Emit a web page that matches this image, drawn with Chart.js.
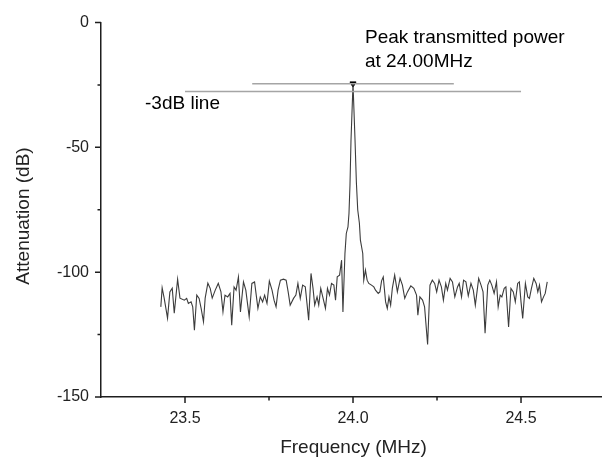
<!DOCTYPE html>
<html>
<head>
<meta charset="utf-8">
<title>Attenuation vs frequency</title>
<script src="https://cdn.jsdelivr.net/npm/chart.js@4.4.1/dist/chart.umd.min.js"></script>
<style>
  html, body { margin: 0; padding: 0; background: #fff; overflow: hidden; }
  #wrap { width: 602px; height: 458px; }
</style>
</head>
<body>
<div id="wrap"><canvas id="chart" width="602" height="458"></canvas></div>
<script>
var freqMHz = [
  23.428, 23.432, 23.438, 23.448, 23.455, 23.462, 23.468, 23.478, 23.485, 23.498,
  23.505, 23.510, 23.518, 23.523, 23.528, 23.535, 23.542, 23.548, 23.555, 23.560,
  23.568, 23.575, 23.581, 23.590, 23.599, 23.607, 23.613, 23.619, 23.627, 23.634,
  23.639, 23.646, 23.652, 23.659, 23.665, 23.674, 23.681, 23.691, 23.699, 23.707,
  23.717, 23.724, 23.731, 23.737, 23.744, 23.751, 23.759, 23.765, 23.771, 23.777,
  23.784, 23.793, 23.801, 23.807, 23.813, 23.823, 23.830, 23.836, 23.843, 23.850,
  23.858, 23.863, 23.868, 23.875, 23.881, 23.886, 23.893, 23.898, 23.904, 23.910,
  23.918, 23.924, 23.930, 23.936, 23.943, 23.948, 23.953, 23.960, 23.966, 23.970,
  23.976, 23.980, 23.985, 23.988, 23.991, 23.994, 24.000, 24.006, 24.010, 24.014,
  24.019, 24.022, 24.029, 24.032, 24.037, 24.042, 24.047, 24.055, 24.062, 24.067,
  24.075, 24.080, 24.085, 24.090, 24.097, 24.102, 24.107, 24.112, 24.117, 24.124,
  24.132, 24.140, 24.147, 24.154, 24.162, 24.172, 24.181, 24.189, 24.193, 24.199,
  24.207, 24.213, 24.222, 24.229, 24.236, 24.243, 24.249, 24.256, 24.263, 24.269,
  24.276, 24.281, 24.289, 24.296, 24.303, 24.311, 24.316, 24.323, 24.329, 24.336,
  24.343, 24.351, 24.358, 24.364, 24.374, 24.381, 24.387, 24.393, 24.401, 24.407,
  24.413, 24.420, 24.427, 24.432, 24.438, 24.443, 24.450, 24.455, 24.463, 24.470,
  24.477, 24.483, 24.490, 24.495, 24.500, 24.505, 24.513, 24.520, 24.525, 24.531,
  24.538, 24.545, 24.550, 24.555, 24.561, 24.567, 24.572, 24.578
];
var attenuationDb = [
  -113.9, -106.3, -110.4, -118.4, -107.9, -106.4, -116.4, -102.8, -110.4, -111.2,
  -110.5, -112.5, -111.9, -113.9, -123.2, -109.2, -110.5, -114.5, -119.9, -110.4,
  -104.4, -106.5, -110.4, -107.2, -104.5, -107.9, -115.9, -109.2, -109.9, -108.5,
  -121.2, -105.9, -107.2, -101.9, -115.9, -103.9, -107.2, -117.9, -104.5, -103.9,
  -114.5, -109.9, -111.9, -109.2, -112.5, -103.6, -107.2, -111.2, -113.9, -107.2,
  -103.2, -102.8, -103.2, -107.9, -113.2, -110.5, -109.2, -104.5, -110.5, -105.2,
  -105.9, -112.5, -119.2, -100.5, -106.5, -113.2, -109.9, -113.2, -106.5, -109.9,
  -114.5, -106.5, -109.2, -104.5, -105.2, -111.2, -101.9, -101.2, -95.2, -115.9,
  -92.5, -84.5, -81.9, -76.5, -65.0, -47.2, -24.5, -47.2, -64.0, -75.0,
  -80.4, -87.2, -92.5, -103.2, -99.2, -103.2, -104.5, -105.2, -105.9, -107.2,
  -108.5, -107.9, -103.5, -101.9, -111.9, -114.5, -109.9, -113.2, -106.5, -101.2,
  -107.9, -102.5, -105.2, -110.5, -107.9, -105.5, -106.5, -109.2, -117.2, -109.9,
  -111.2, -113.9, -129.0, -105.2, -103.2, -104.5, -107.9, -103.2, -105.9, -111.2,
  -104.5, -107.2, -102.5, -103.9, -109.9, -105.9, -104.5, -109.9, -103.2, -103.9,
  -109.5, -104.5, -107.2, -113.2, -102.5, -105.2, -107.9, -124.5, -105.2, -103.2,
  -105.2, -108.5, -103.9, -113.9, -109.2, -109.9, -106.5, -105.9, -121.9, -106.5,
  -107.9, -111.9, -104.5, -103.9, -111.9, -118.5, -104.5, -109.9, -110.5, -106.5,
  -102.5, -104.5, -107.9, -105.2, -111.9, -109.9, -108.5, -103.9
];

// marker lines
var peakLineFreq = [23.70, 24.30];
var peakLineDb = [-24.5, -24.5];
var halfLineFreq = [23.50, 24.50];
var halfLineDb = [-27.6, -27.6];
var peakFreq = [24.00];
var peakDb = [-24.5];

// axes
var xMajorTicks = [23.5, 24.0, 24.5];
var xMinorTicks = [23.75, 24.25];
var yMajorTicks = [0, -50, -100, -150];
var yMinorTicks = [-25, -75, -125];

function pairs(xs, ys) {
  return xs.map(function(x, i) { return { x: x, y: ys[i] }; });
}

var FONT = "'Liberation Sans', Arial, sans-serif";
var AXIS = "#1e1e1e";

var extras = {
  id: "extras",
  afterDraw: function(chart) {
    var ctx = chart.ctx;
    var xs = chart.scales.x, ys = chart.scales.y;
    var area = chart.chartArea;
    ctx.save();
    ctx.strokeStyle = AXIS;
    ctx.lineWidth = 1.5;
    ctx.beginPath();
    xMajorTicks.forEach(function(v) {
      var px = xs.getPixelForValue(v);
      ctx.moveTo(px, area.bottom); ctx.lineTo(px, area.bottom + 6);
    });
    xMinorTicks.forEach(function(v) {
      var px = xs.getPixelForValue(v);
      ctx.moveTo(px, area.bottom); ctx.lineTo(px, area.bottom + 3.5);
    });
    yMajorTicks.forEach(function(v) {
      var py = ys.getPixelForValue(v);
      ctx.moveTo(area.left, py); ctx.lineTo(area.left - 6, py);
    });
    yMinorTicks.forEach(function(v) {
      var py = ys.getPixelForValue(v);
      ctx.moveTo(area.left, py); ctx.lineTo(area.left - 3.5, py);
    });
    ctx.stroke();

    ctx.fillStyle = "#000";
    ctx.font = "19px " + FONT;
    ctx.textBaseline = "alphabetic";
    ctx.textAlign = "left";
    ctx.fillText("Peak transmitted power", 365, 43);
    ctx.fillText("at 24.00MHz", 365, 67);
    ctx.fillText("-3dB line", 145, 109);

    ctx.fillStyle = "#222";
    ctx.textAlign = "center";
    ctx.fillText("Frequency (MHz)", 353.5, 453);
    ctx.translate(28.5, 216);
    ctx.rotate(-Math.PI / 2);
    ctx.fillText("Attenuation (dB)", 0, 0);
    ctx.restore();
  }
};

new Chart(document.getElementById("chart"), {
  type: "scatter",
  data: {
    datasets: [
      {
        data: pairs(halfLineFreq, halfLineDb),
        showLine: true, borderColor: "#a5a5a5", borderWidth: 1.5,
        pointRadius: 0
      },
      {
        data: pairs(peakLineFreq, peakLineDb),
        showLine: true, borderColor: "#a5a5a5", borderWidth: 1.5,
        pointRadius: 0
      },
      {
        data: pairs(freqMHz, attenuationDb),
        showLine: true, borderColor: "#3c3c3c", borderWidth: 1.1,
        pointRadius: 0, tension: 0
      },
      {
        data: pairs(peakFreq, peakDb),
        pointStyle: "triangle", rotation: 180, pointRadius: 3.5,
        backgroundColor: "#000", borderColor: "#000", borderWidth: 1
      }
    ]
  },
  options: {
    responsive: false,
    animation: false,
    devicePixelRatio: 1,
    layout: { autoPadding: false, padding: { top: 22.5, right: 0, left: 0, bottom: 0 } },
    plugins: { legend: { display: false }, tooltip: { enabled: false } },
    scales: {
      x: {
        type: "linear",
        min: 23.25,
        max: 24.741,
        afterFit: function(s) {
          s.height = 61;
          s.paddingLeft = 0; s.paddingRight = 0;
        },
        grid: { display: false, drawTicks: false },
        border: { display: true, color: AXIS, width: 1.5 },
        ticks: {
          stepSize: 0.5,
          includeBounds: false,
          padding: 12,
          color: "#222",
          font: { family: FONT, size: 16 },
          callback: function(v) { return v.toFixed(1); }
        }
      },
      y: {
        type: "linear",
        min: -150,
        max: 0,
        afterFit: function(s) {
          s.width = 101;
          s.paddingTop = 0; s.paddingBottom = 0;
        },
        grid: { display: false, drawTicks: false },
        border: { display: true, color: AXIS, width: 1.5 },
        ticks: {
          stepSize: 50,
          padding: 12,
          color: "#222",
          font: { family: FONT, size: 16 }
        }
      }
    }
  },
  plugins: [extras]
});
</script>
</body>
</html>
